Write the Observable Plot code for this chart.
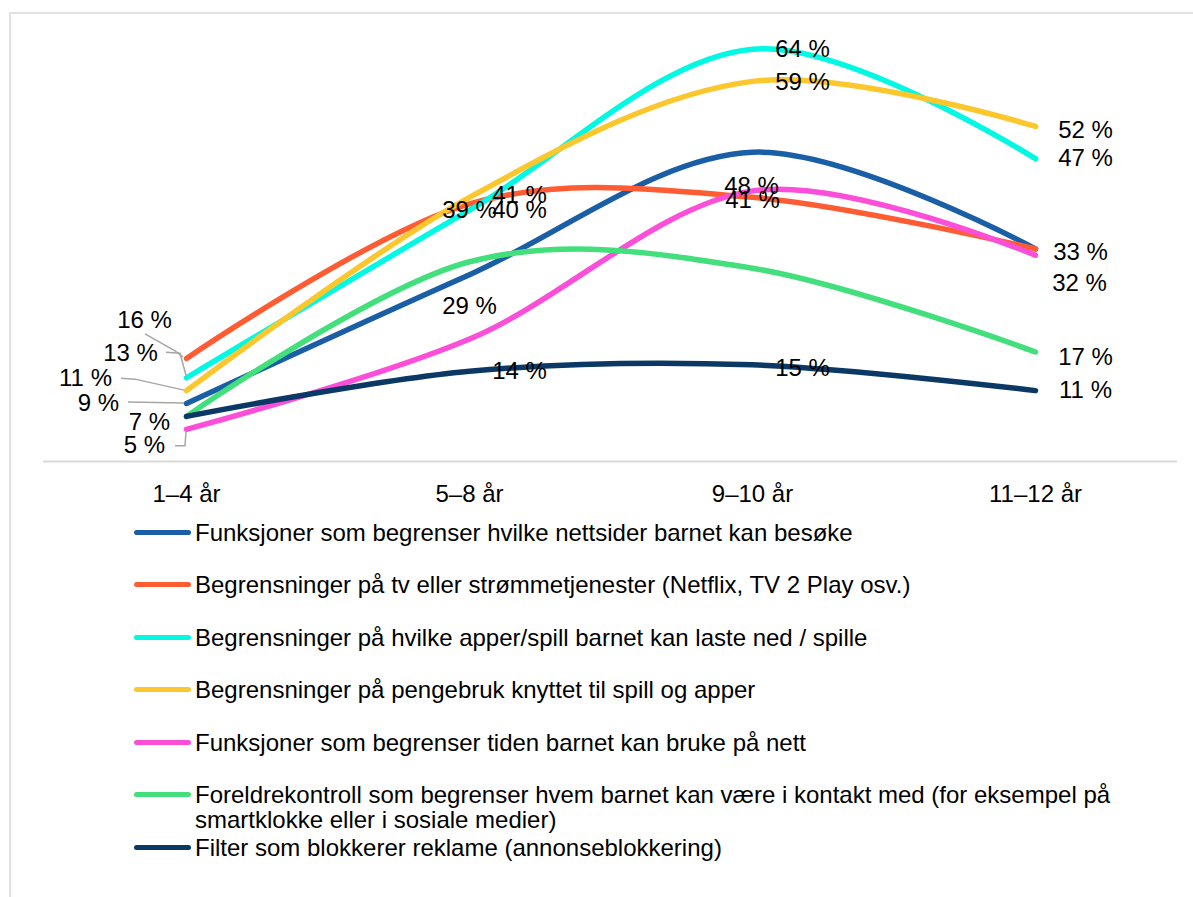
<!DOCTYPE html>
<html><head><meta charset="utf-8">
<script src="https://cdn.jsdelivr.net/npm/d3@7"></script>
<script src="https://cdn.jsdelivr.net/npm/@observablehq/plot@0.6"></script>
<style>
body{margin:0;background:#fff;font-family:"Liberation Sans",Arial,sans-serif;}
#wrap{position:relative;width:1193px;height:897px;overflow:hidden;}
#frame{position:absolute;left:9px;top:12px;width:1200px;height:900px;border-left:2px solid #e2e2e2;border-top:2px solid #e2e2e2;pointer-events:none;}
#chart{position:absolute;left:0;top:0;}
#legend{position:absolute;left:134px;top:519.5px;font-size:24px;color:#000;}
.item{display:flex;align-items:flex-start;min-height:52.5px;line-height:25px;}
.sw{width:57px;height:5px;border-radius:3px;margin-top:10px;flex:none;}
.txt{margin-left:4px;max-width:970px;}
</style>
</head><body>
<div id="wrap"><div id="frame"></div><div id="chart"></div><div id="legend"></div></div>
<script>
const ages = ["1–4 år", "5–8 år", "9–10 år", "11–12 år"];
const seriesNames = [
  "Funksjoner som begrenser hvilke nettsider barnet kan besøke",
  "Begrensninger på tv eller strømmetjenester (Netflix, TV 2 Play osv.)",
  "Begrensninger på hvilke apper/spill barnet kan laste ned / spille",
  "Begrensninger på pengebruk knyttet til spill og apper",
  "Funksjoner som begrenser tiden barnet kan bruke på nett",
  "Foreldrekontroll som begrenser hvem barnet kan være i kontakt med (for eksempel på smartklokke eller i sosiale medier)",
  "Filter som blokkerer reklame (annonseblokkering)"
];
const seriesColors = ["#1a5ea6", "#ff5c33", "#00f9e3", "#fcc72c", "#fc4fd9", "#42df7c", "#0b3864"];
const vNettsider   = [9, 29, 48, 33];
const vTv          = [16, 40, 41, 33];
const vApper       = [13, 39, 64, 47];
const vPengebruk   = [11, 41, 59, 52];
const vTid         = [5, 19, 42, 32];
const vKontakt     = [7, 31, 30, 17];
const vReklame     = [7, 14, 15, 11];
const seriesValues = [vNettsider, vTv, vApper, vPengebruk, vTid, vKontakt, vReklame];

// data labels: which series / age they belong to
const labelSeries = [1, 2, 3, 0, 6, 4,   2, 3, 1, 0, 6,   2, 3, 0, 1, 6,   3, 2, 0, 4, 5, 6];
const labelAge    = [0, 0, 0, 0, 0, 0,   1, 1, 1, 1, 1,   2, 2, 2, 2, 2,   3, 3, 3, 3, 3, 3];
// label offsets (pixels) relative to the data point
const labelDx = [-42, -56, -101, -88, -37, -42,   0, 50, 50, 0, 50,   50, 50, -1, 0, 50,   50, 50, 45, 44, 50, 50];
const labelDy = [-38, -24, -12, 0, 6, 16,   0, -2, 7, 32, 0,   0, 1, 34, 3, 3,   4, 0, 3, 28, 5, 0];

// leader lines at 1–4 år (pixel offsets relative to the data point)
const leaderSeries = [1, 2, 3, 0, 4];
const leaderPts = [
  [[-41, -24], [-11, -7], [-3, -1]],
  [[-20, -25], [-6, -24], [0, -2]],
  [[-65, -12], [-51, -11], [-2, 0]],
  [[-58, -1], [-2, 0]],
  [[-11, 17], [-1, 17], [0, 3]]
];

const rows = [];
seriesNames.forEach((s, i) => ages.forEach((a, j) => rows.push({series: s, age: a, value: seriesValues[i][j]})));
const labels = labelSeries.map((s, k) => ({
  age: ages[labelAge[k]], value: seriesValues[s][labelAge[k]],
  text: seriesValues[s][labelAge[k]] + " %", dx: labelDx[k], dy: labelDy[k]
}));
const leaders = leaderSeries.map((s, k) => ({age: ages[0], value: seriesValues[s][0], pts: leaderPts[k]}));

const W = 1193, H = 515;
const chart = Plot.plot({
  width: W, height: H,
  marginTop: 10, marginBottom: 54, marginLeft: 43, marginRight: 16,
  style: {fontFamily: '"Liberation Sans", Arial, sans-serif', fontSize: "24px", color: "#000", background: "transparent"},
  x: {type: "point", domain: ages, padding: 0.5, axis: "bottom", tickSize: 0, tickPadding: 23, label: null},
  y: {domain: [0, 70], axis: null},
  color: {domain: seriesNames, range: seriesColors},
  marks: [
    Plot.ruleY([0], {stroke: "#d9d9d9", strokeWidth: 2}),
    Plot.line(rows, {x: "age", y: "value", z: "series", stroke: "series", strokeWidth: 5.5, strokeLinecap: "round", strokeLinejoin: "round", curve: "cardinal"}),
    Plot.dot(leaders, {x: "age", y: "value", r: 0, render: (index, scales, values, dims, context) => {
      const g = d3.create("svg:g");
      for (const i of index) {
        const d = leaders[i];
        const px = scales.x(d.age), py = scales.y(d.value);
        g.append("path")
          .attr("d", d3.line()(d.pts.map(([a, b]) => [px + a, py + b])))
          .attr("fill", "none").attr("stroke", "#a6a6a6").attr("stroke-width", 1.5);
      }
      return g.node();
    }}),
    ...labels.map(l => Plot.text([l], {x: "age", y: "value", text: "text", dx: l.dx, dy: l.dy, textAnchor: "middle", fill: "#000", fontSize: 24}))
  ]
});
document.getElementById("chart").appendChild(chart);

const legend = document.getElementById("legend");
seriesNames.forEach((s, i) => {
  const item = document.createElement("div");
  item.className = "item";
  const sw = document.createElement("span");
  sw.className = "sw"; sw.style.background = seriesColors[i];
  const t = document.createElement("span");
  t.className = "txt"; t.textContent = s;
  item.appendChild(sw); item.appendChild(t);
  legend.appendChild(item);
});
</script>
</body></html>
